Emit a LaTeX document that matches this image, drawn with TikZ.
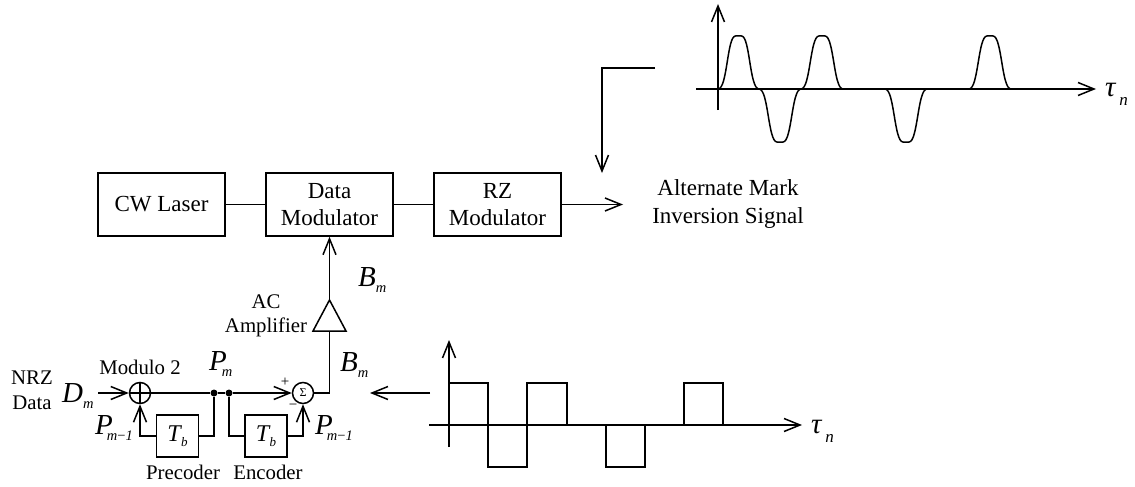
\documentclass[tikz,border=0pt]{standalone}
\usepackage{fontspec}
\setmainfont{Liberation Serif}
\usetikzlibrary{arrows.meta,calc}
\newcommand{\pulse}[3]{% start x, end x, level y
  ({#1},89) .. controls ({#1+9.5},89) and ({#1+9},{#3}) .. ({(#1+#2)/2-3},{#3}) -- ({(#1+#2)/2+3},{#3}) .. controls ({#2-9},{#3}) and ({#2-9.5},89) .. ({#2},89)}
\tikzset{
  x=1pt,y=-1pt,
  wire/.style={draw,line width=1.5pt},
  open/.style={-{Straight Barb[length=16pt,width=13pt,line width=1.5pt]}},
  blockbox/.style={draw,line width=1.5pt,rectangle,inner sep=0pt,minimum width=127pt,minimum height=63pt,align=center,font=\fontsize{23}{27.5}\selectfont},
  tbox/.style={draw,line width=1.5pt,rectangle,inner sep=0pt,minimum width=42pt,minimum height=42pt},
  circ/.style={draw,line width=1.5pt,circle,inner sep=0pt,minimum size=21pt},
  dot/.style={fill=black,draw=none,circle,inner sep=0pt,minimum size=7pt},
  lab/.style={inner sep=0pt,align=center,font=\fontsize{20.8}{24.5}\selectfont},
  biglab/.style={inner sep=0pt,align=center,font=\fontsize{23}{28}\selectfont},
  sym/.style={inner sep=0pt,anchor=base west,font=\fontsize{29}{32}\selectfont}
}
\newcommand{\msub}[3]{\textit{#1}\kern#2pt\raisebox{-6.5pt}{\fontsize{14.5}{16}\selectfont\textit{#3}}}
\newcommand{\tb}{\fontsize{24}{26}\selectfont\textit{T}\kern-1pt\raisebox{-5pt}{\fontsize{13}{14}\selectfont\textit{b}}}
\newcommand{\taun}{\textit{τ}\kern3pt\raisebox{-9pt}{\fontsize{17}{18}\selectfont\textit{n}}}
\begin{document}
\begin{tikzpicture}
\useasboundingbox (0,0) rectangle (1135,487);
% blocks
\node[blockbox] (cw) at (161.5,204.5) {CW Laser};
\node[blockbox] (dm) at (329.5,204.5) {Data\\Modulator};
\node[blockbox] (rz) at (497.5,204.5) {RZ\\Modulator};
\draw[wire] (cw) -- (dm);
\draw[wire] (dm) -- (rz);
\coordinate (out) at (623,204.5);
\draw[wire,open] (rz) -- (out);
\node[biglab] (ami) at (728,204) {Alternate Mark\\Inversion Signal};
% amplifier
\coordinate (ap) at (329.5,300);
\coordinate (bl) at (313,331);
\coordinate (br) at (346,331);
\coordinate (bm) at (329.5,331);
\draw[wire] (ap) -- (bl) -- (br) -- cycle;
\draw[wire,open] (ap) -- (dm.south);
\node[lab] (ac) at (266,316) {AC\\Amplifier};
\node[sym] (b1) at (358,286) {\msub{B}{0}{m}};
% adders and delays
\node[circ] (xor) at (140,393) {};
\draw[wire] (xor.north) -- (xor.south);
\node[circ] (sum) at (303,393) {\fontsize{12}{12}\selectfont Σ};
\node[dot] (d1) at (214,393) {};
\node[dot] (d2) at (229,393) {};
\node[tbox] (t1) at (177.5,436) {\tb};
\node[tbox] (t2) at (266,436) {\tb};
\coordinate (din) at (98,393);
\draw[wire,open] (din) -- (xor.west);
\draw[wire] (xor.west) -- (d1) -- (d2);
\draw[wire,open] (d2) -- (sum.west);
\draw[wire,open] (t1.west) -| (xor.south);
\draw[wire] (t1.east) -| (d1);
\draw[wire] (d2) |- (t2.west);
\draw[wire,open] (t2.east) -| (sum.south);
\draw[wire] (sum.east) -| (bm);
\node[lab] (nrz) at (32,390.5) {NRZ\\Data};
\node[sym] (dlab) at (62,402) {\msub{D}{0}{m}};
\node[lab] (mod2) at (140,367) {Modulo 2};
\node[sym] (pm) at (209,370) {\msub{P}{-5}{m}};
\node[lab,font=\fontsize{15}{15}\selectfont] (plus) at (285,382) {+};
\node[lab,font=\fontsize{15}{15}\selectfont] (minus) at (293,407) {−};
\node[sym] (bm2) at (340,371) {\msub{B}{0}{m}};
\node[sym] (pm1) at (95,434) {\msub{P}{-6}{m{\upshape−}1}};
\node[sym] (pm2) at (315,434) {\msub{P}{-6}{m{\upshape−}1}};
\node[lab] (prec) at (183,472) {Precoder};
\node[lab] (enc) at (268,472) {Encoder};
% arrow from lower waveform
\coordinate (ls) at (430,393);
\coordinate (le) at (370,393);
\draw[wire,open] (ls) -- (le);
% lower waveform
\coordinate (lx0) at (429,425);
\coordinate (lx1) at (802,425);
\coordinate (ly0) at (449,447);
\coordinate (ly1) at (449,340);
\draw[wire,open] (lx0) -- (lx1);
\draw[wire,open] (ly0) -- (ly1);
\draw[wire] (449,383) -- (488,383) -- (488,467) -- (527,467) -- (527,383) -- (567,383) -- (567,425);
\draw[wire] (606,425) -- (606,467) -- (645,467) -- (645,425);
\draw[wire] (684,425) -- (684,383) -- (723,383) -- (723,425);
\node[sym] (tau2) at (811,433) {\taun};
% elbow arrow
\coordinate (es) at (655,68);
\coordinate (ee) at (602,173);
\draw[wire,open] (es) -| (ee);
% upper waveform
\coordinate (ux0) at (696,89);
\coordinate (ux1) at (1096,89);
\coordinate (uy0) at (718,110);
\coordinate (uy1) at (718,4);
\draw[wire,open] (ux0) -- (ux1);
\draw[wire,open] (uy0) -- (uy1);
\draw[wire] \pulse{718}{759}{36};
\draw[wire] \pulse{759}{801}{142};
\draw[wire] \pulse{801}{843}{36};
\draw[wire] \pulse{885}{927}{142};
\draw[wire] \pulse{969}{1011}{36};
\node[sym] (tau1) at (1105,96) {\taun};
\end{tikzpicture}
\end{document}
